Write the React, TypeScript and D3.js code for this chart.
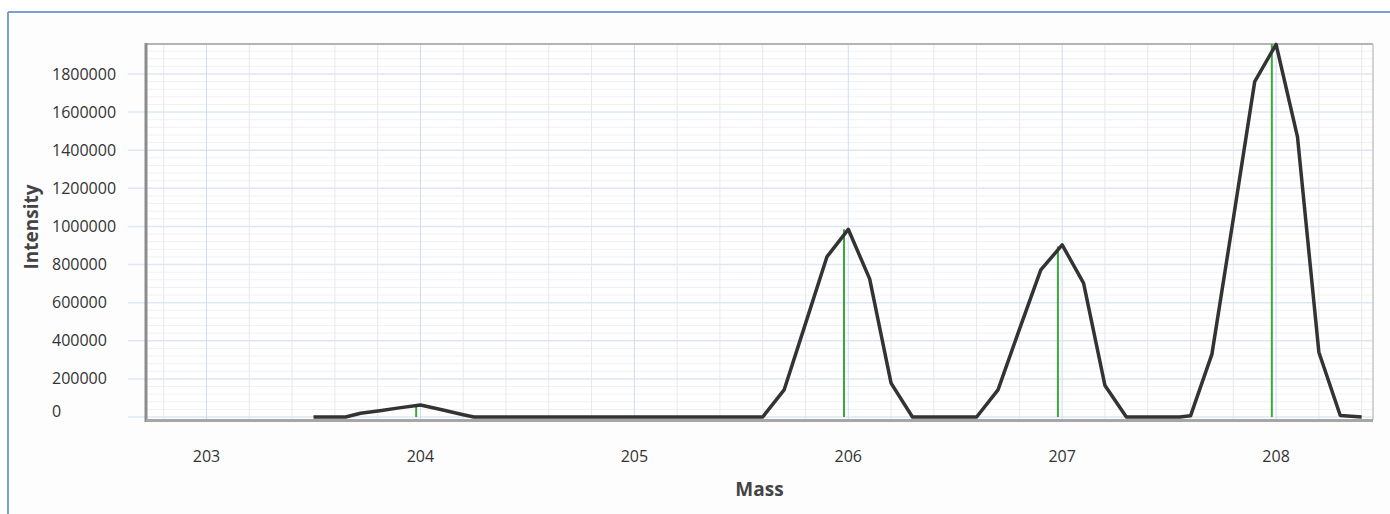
import * as d3 from "d3";
import React from "react";

// profile points (mass, intensity)
const profileMass = [
  203.5, 203.65, 203.72, 203.81, 203.9, 204.0, 204.1, 204.2, 204.25,
  205.6, 205.7, 205.8, 205.9, 206.0, 206.1, 206.2, 206.3,
  206.6, 206.7, 206.8, 206.9, 207.0, 207.1, 207.2, 207.3,
  207.55, 207.6, 207.7, 207.8, 207.9, 208.0, 208.1, 208.2, 208.3, 208.4,
];
const profileIntensity = [
  0, 0, 20000, 33000, 48000, 63000, 38000, 12000, 0,
  0, 142000, 490000, 840000, 985000, 725000, 178000, 0,
  0, 142000, 460000, 772000, 903000, 703000, 165000, 0,
  0, 6000, 330000, 1040000, 1760000, 1955000, 1470000, 340000, 8000, 0,
];

// centroid sticks
const stickMass = [203.98, 205.98, 206.98, 207.98];
const stickIntensity = [63000, 985000, 895000, 1957000];

const xTicks = [203, 204, 205, 206, 207, 208];
const yTicks = [0, 200000, 400000, 600000, 800000, 1000000, 1200000, 1400000, 1600000, 1800000];

const W = 1390, H = 514;
const left = 146, right = 1373, top = 44, bottom = 420;

const x = d3.scaleLinear().domain([202.717, 208.453]).range([left, right]);
const y = d3.scaleLinear().domain([-15700, 1957400]).range([bottom, top]);

const font = "'Segoe UI', 'Open Sans', 'DejaVu Sans', sans-serif";

export default function App() {
  const pts: [number, number][] = profileMass.map((m, i) => [m, profileIntensity[i]]);
  const line = d3.line<[number, number]>()
    .x((d) => x(d[0]))
    .y((d) => y(d[1]))(pts);

  // minor grid every 0.2 Da and every 40000 counts
  const xMinor = d3.range(202.8, 208.45, 0.2).filter((v) => Math.abs(v - Math.round(v)) > 0.01);
  const yMinor = d3.range(40000, 1957400, 40000).filter((v) => v % 200000 !== 0);

  return (
    <svg width={W} height={H} style={{ position: "absolute", left: 0, top: 0, background: "#fff" }}>
      <rect x={8} y={12} width={W} height={H} fill="#fdfdfd" />
      <line x1={8} y1={12} x2={W} y2={12} stroke="#7a9fd6" strokeWidth={2} />
      <line x1={8} y1={12} x2={8} y2={H} stroke="#7a9fd6" strokeWidth={2} />

      <rect x={left} y={top} width={right - left} height={bottom - top} fill="#fff" />

      {yMinor.map((v) => (
        <line key={"ym" + v} x1={left} x2={right} y1={y(v)} y2={y(v)} stroke="#eef1f6" strokeWidth={1} />
      ))}
      {xMinor.map((v) => (
        <line key={"xm" + v} x1={x(v)} x2={x(v)} y1={top} y2={bottom} stroke="#e8e8e8" strokeWidth={1} />
      ))}
      {yTicks.map((v) => (
        <line key={"yg" + v} x1={128} x2={right} y1={y(v)} y2={y(v)} stroke="#dde7f5" strokeWidth={1.5} />
      ))}
      {xTicks.map((v) => (
        <line key={"xg" + v} x1={x(v)} x2={x(v)} y1={top} y2={bottom} stroke="#cfdcf2" strokeWidth={1} />
      ))}

      {/* frame */}
      <line x1={left} x2={right} y1={top} y2={top} stroke="#b4b4b4" strokeWidth={2} />
      <line x1={right} x2={right} y1={top} y2={bottom} stroke="#c4c4c4" strokeWidth={1.5} />
      <line x1={left} x2={left} y1={top - 1} y2={bottom + 2} stroke="#8c8c8c" strokeWidth={3} />
      <line x1={left} x2={right} y1={bottom + 0.5} y2={bottom + 0.5} stroke="#a6a6a6" strokeWidth={3} />

      {stickMass.map((m, i) => (
        <line key={"s" + m} x1={x(m)} x2={x(m)} y1={y(0)} y2={y(stickIntensity[i])}
          stroke="#3aa83a" strokeWidth={2} />
      ))}
      <path d={line || ""} fill="none" stroke="#333" strokeWidth={3.5} strokeLinejoin="round" />

      {yTicks.map((v) => (
        <text key={"yt" + v} x={52} y={y(v) - (v === 0 ? 6 : 0)} dy="0.35em" fontSize={16}
          fontFamily={font} fill="#333">{v}</text>
      ))}
      {xTicks.map((v) => (
        <text key={"xt" + v} x={x(v)} y={456} dy="0.35em" textAnchor="middle" fontSize={16}
          fontFamily={font} fill="#333">{v}</text>
      ))}

      <text x={(left + right) / 2} y={489} dy="0.35em" textAnchor="middle" fontSize={19}
        fontWeight="bold" fontFamily={font} fill="#444">Mass</text>
      <text transform={`translate(31,227) rotate(-90)`} dy="0.35em" textAnchor="middle" fontSize={19}
        fontWeight="bold" fontFamily={font} fill="#444">Intensity</text>
    </svg>
  );
}
